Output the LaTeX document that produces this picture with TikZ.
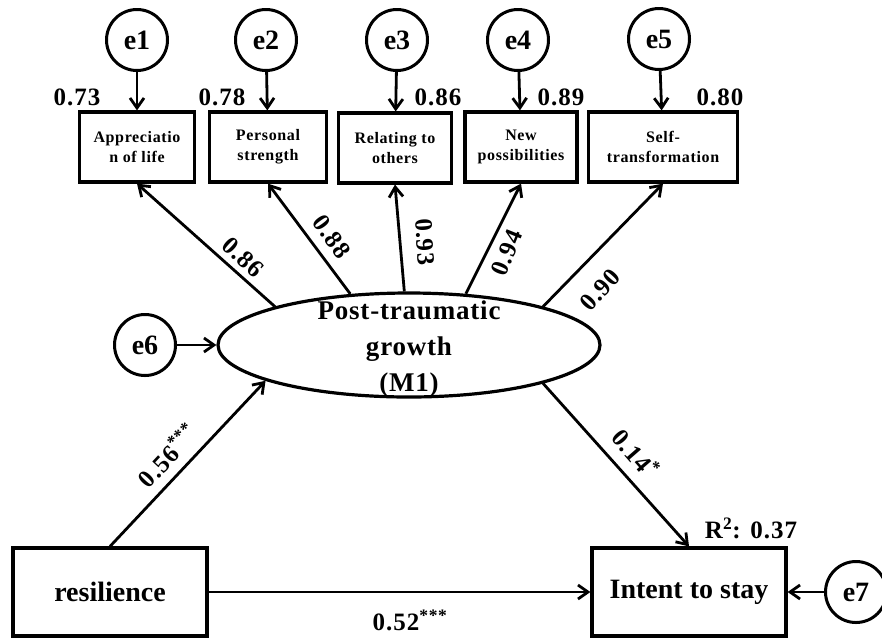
\documentclass[tikz,border=0pt]{standalone}
\usepackage{fontspec}
\setmainfont{Liberation Serif}
\usetikzlibrary{arrows.meta,shapes.geometric}
\begin{document}
\begin{tikzpicture}[x=1pt,y=-1pt,
  err/.style={circle,draw,line width=3pt,minimum size=61pt,inner sep=0pt,font=\fontsize{28}{30}\selectfont\bfseries},
  ind/.style={rectangle,draw,line width=3.2pt,minimum height=70pt,inner sep=0pt,align=center,font=\fontsize{16}{20}\selectfont\bfseries\addfontfeatures{LetterSpace=4}},
  big/.style={rectangle,draw,line width=3.2pt,minimum width=194pt,minimum height=88pt,inner sep=0pt,font=\fontsize{28}{30}\selectfont\bfseries},
  lbl/.style={font=\fontsize{25}{27}\selectfont\bfseries\addfontfeatures{LetterSpace=4},inner sep=0pt},
  arr/.style={-{Straight Barb[length=10pt,width=14pt,line width=2.8pt]},line width=2.8pt}]
\useasboundingbox (0,0) rectangle (882,638);
% error terms
\node[err] (e1) at (137,40) {e1};
\node[err] (e2) at (266,40) {e2};
\node[err] (e3) at (397,40) {e3};
\node[err] (e4) at (518,40) {e4};
\node[err] (e5) at (659,39) {e5};
\node[err] (e6) at (145,345) {e6};
\node[err] (e7) at (856,592) {e7};
% indicators
\node[ind,minimum width=115pt] (b1) at (137,147) {Appreciatio\\n of life};
\node[ind,minimum width=117pt] (b2) at (268,147) {Personal\\strength};
\node[ind,minimum width=113pt] (b3) at (395,148) {Relating to\\others};
\node[ind,minimum width=112pt] (b4) at (521,147) {New\\possibilities};
\node[ind,minimum width=149pt] (b5) at (663,147) {Self-\\transformation};
% latent
\node[ellipse,draw,line width=3.2pt,minimum width=382pt,minimum height=104pt,inner sep=0pt] (ptg) at (409,345) {};
\node[align=center,font=\fontsize{27}{36}\selectfont\bfseries\addfontfeatures{LetterSpace=3}] (ptgl) at (409,349) {Post-traumatic\\growth\\(M1)};
% observed
\node[big] (res) at (110,592) {resilience};
\node[big] (int) at (689,592) {Intent to stay};
% arrows
\foreach \i in {1,...,5} {\draw[arr] (e\i) -- (b\i);}
\draw[arr] (e6) -- (ptg);
\draw[arr] (e7) -- (int);
\draw[arr] (ptg.164) -- (b1.south);
\draw[arr] (ptg.139) -- (b2.south);
\draw[arr] (ptg.95) -- (b3.south);
\draw[arr] (ptg.42) -- (b4.south);
\draw[arr] (ptg.16) -- (b5.south);
\draw[arr] (res.north) -- (ptg.194);
\draw[arr] (ptg.-16) -- (int.north);
\draw[arr] (res) -- (int);
% labels
\node[lbl] (l1) at (77,97) {0.73};
\node[lbl] (l2) at (222,97) {0.78};
\node[lbl] (l3) at (438,97) {0.86};
\node[lbl] (l4) at (561,97) {0.89};
\node[lbl] (l5) at (720,97) {0.80};
\node[lbl,rotate=-43] (k1) at (243,257) {0.86};
\node[lbl,rotate=-54] (k2) at (332,237) {0.88};
\node[lbl,rotate=-86] (k3) at (425,242) {0.93};
\node[lbl,rotate=68] (k4) at (507,253) {0.94};
\node[lbl,rotate=48] (k5) at (600,290) {0.90};
\node[lbl,rotate=47] (p1) at (167,455) {0.56\textsuperscript{***}};
\node[lbl,rotate=-49] (p2) at (636,453) {0.14\textsuperscript{*}};
\node[lbl] (p3) at (410,620) {0.52\textsuperscript{***}};
\node[lbl] (r2) at (751,528) {R\textsuperscript{2}: 0.37};
\end{tikzpicture}
\end{document}
